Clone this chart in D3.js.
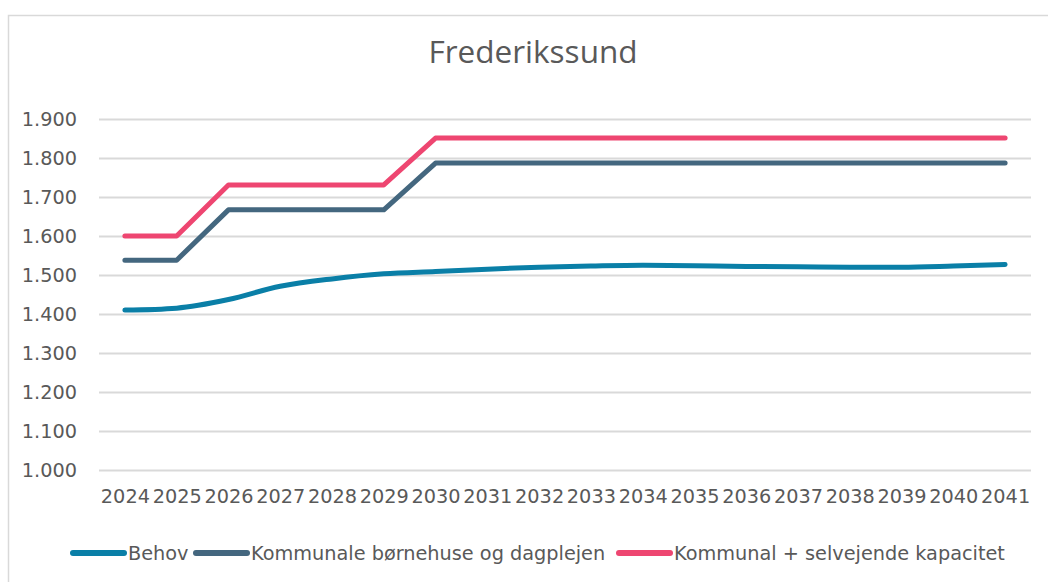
<!DOCTYPE html>
<html>
<head>
<meta charset="utf-8">
<script src="https://cdn.jsdelivr.net/npm/d3@7"></script>
<style>
  body { margin: 0; background: #fff; }
  svg { display: block; }
</style>
</head>
<body>
<div id="paper"></div>
<script>
const years = ["2024","2025","2026","2027","2028","2029","2030","2031","2032","2033","2034","2035","2036","2037","2038","2039","2040","2041"];
const behov = [1410,1415,1437,1471,1490,1503,1509,1515,1520,1523,1525,1524,1522,1521,1520,1520,1523,1527];
const kommunale = [1538,1538,1667,1667,1667,1667,1787,1787,1787,1787,1787,1787,1787,1787,1787,1787,1787,1787];
const kapacitet = [1600,1600,1731,1731,1731,1731,1851,1851,1851,1851,1851,1851,1851,1851,1851,1851,1851,1851];
const yTicks = [1000,1100,1200,1300,1400,1500,1600,1700,1800,1900];
const seriesNames = ["Behov", "Kommunale børnehuse og dagplejen", "Kommunal + selvejende kapacitet"];

const width = 1048, height = 582;
const colors = ["#0a7fa7", "#44677f", "#ee4671"];
const textColor = "#595959";
const font = "'DejaVu Sans', sans-serif";
const fontSize = 19.3;

const series = [behov, kommunale, kapacitet].map((values, i) => ({
  name: seriesNames[i], color: colors[i], smooth: i === 0,
  values: values.map((v, j) => ({year: years[j], value: v}))
}));

const x = d3.scalePoint().domain(years).range([99, 1031]).padding(0.5);
const y = d3.scaleLinear().domain([1000, 1900]).range([470, 119]);
const fmt = d3.formatLocale({decimal: ",", thousands: ".", grouping: [3]}).format(",.0f");

const svg = d3.select("#paper").append("svg")
  .attr("width", width)
  .attr("height", height);

// chart frame (cut off at right and bottom)
svg.append("rect")
  .attr("x", 8.5).attr("y", 15.5)
  .attr("width", 1100).attr("height", 700)
  .attr("fill", "#fff")
  .attr("stroke", "#d9d9d9")
  .attr("stroke-width", 1.5);

svg.append("text")
  .attr("x", 533).attr("y", 63)
  .attr("text-anchor", "middle")
  .attr("font-family", "'Open Sans', sans-serif")
  .attr("font-size", 31.5)
  .attr("fill", textColor)
  .text("Frederikssund");

// y axis with gridlines
const yAxis = svg.append("g")
  .attr("transform", "translate(99,0)")
  .call(d3.axisLeft(y).tickValues(yTicks).tickFormat(fmt)
    .tickSizeInner(-932).tickSizeOuter(0).tickPadding(22));
yAxis.select(".domain").remove();
yAxis.selectAll("line").attr("stroke", "#d9d9d9").attr("stroke-width", 2);
yAxis.selectAll("text")
  .attr("font-family", font).attr("font-size", fontSize).attr("fill", textColor);

// x axis
const xAxis = svg.append("g")
  .attr("transform", "translate(0,470)")
  .call(d3.axisBottom(x).tickSize(0).tickPadding(19));
xAxis.select(".domain").remove();
xAxis.selectAll("text")
  .attr("font-family", font).attr("font-size", fontSize).attr("fill", textColor);

const line = d3.line().x(d => x(d.year)).y(d => y(d.value));

svg.append("g")
  .selectAll("path")
  .data(series)
  .join("path")
  .attr("fill", "none")
  .attr("stroke", d => d.color)
  .attr("stroke-width", 5)
  .attr("stroke-linecap", "round")
  .attr("stroke-linejoin", "round")
  .attr("d", d => line.curve(d.smooth ? d3.curveMonotoneX : d3.curveLinear)(d.values));

// legend
const legendX = [70, 193, 616];
const legend = svg.append("g")
  .selectAll("g")
  .data(series)
  .join("g")
  .attr("transform", (d, i) => `translate(${legendX[i]},553)`);
legend.append("line")
  .attr("x1", 3).attr("x2", 54)
  .attr("stroke", d => d.color)
  .attr("stroke-width", 6)
  .attr("stroke-linecap", "round");
legend.append("text")
  .attr("x", 58).attr("y", 7)
  .attr("font-family", font).attr("font-size", fontSize).attr("fill", textColor)
  .text(d => d.name);
</script>
</body>
</html>
